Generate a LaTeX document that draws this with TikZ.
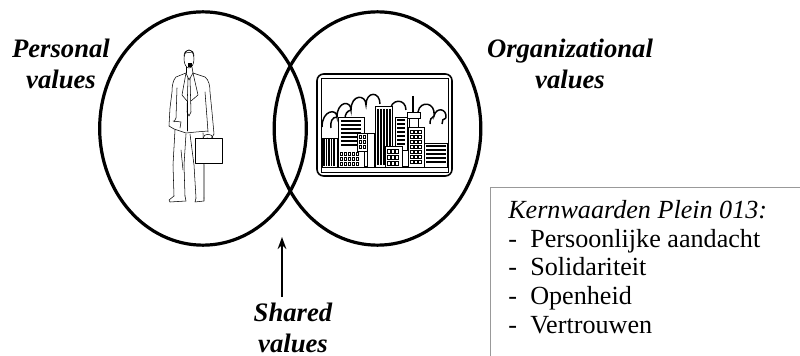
\documentclass[tikz,border=0pt]{standalone}
\usepackage{fontspec}
\setmainfont{Liberation Serif}
\usetikzlibrary{arrows.meta,shapes.geometric}
\begin{document}
\begin{tikzpicture}[x=0.75pt,y=-0.75pt,
  ring/.style={ellipse, draw, line width=2.4pt, inner sep=0pt, minimum width=155pt, minimum height=175pt},
  lbl/.style={font=\fontsize{20}{23.25}\selectfont\bfseries\itshape, align=center, inner sep=0pt, anchor=base},
  listtxt/.style={font=\fontsize{19.6}{21.4}\selectfont, align=left, inner sep=0pt, anchor=base west},
  art/.style={line width=0.4pt, line join=round, line cap=round},
  bld/.style={line width=0.6pt, fill=white},
  stripe/.style={line width=0.9pt},
  win/.style={line width=0.4pt},
  cloud/.style={line width=1.1pt},
  pointer/.style={line width=1.5pt, -{Stealth[length=9pt,width=6.5pt]}},
  boxedge/.style={draw=gray!80, line width=0.7pt},
]
\useasboundingbox (0,0) rectangle (800,356);

% ---- the two value circles
\node[ring] (pc) at (203,128.5) {};
\node[ring] (oc) at (377.5,128.5) {};

% ---- man with briefcase
\begin{scope}[art]
  \draw (189,59) ellipse [x radius=5, y radius=9];
  \draw (184,56) .. controls (184,48) and (194,48) .. (194,56);
  \draw (185,53) -- (193,52);
  \fill (187.5,63.5) rectangle (191.5,67);
  \draw (186,67) -- (186,73);
  \draw (192,67) -- (193,73);
  \draw (186,73) -- (189,80) -- (193,73);
  \draw (188,78) -- (187,112) -- (189,116) -- (191,112) -- (190,78);
  % jacket
  \draw (186,73) -- (176,77) .. controls (173,80) and (172,86) .. (172,92) -- (170,108) -- (169,126) -- (174,129);
  \draw (193,73) -- (205,77) .. controls (209,80) and (210,86) .. (210,92) -- (212,112) -- (214,134) -- (211,139) -- (207,138);
  \draw (186,73) -- (182,95) -- (187,101);
  \draw (193,73) -- (198,95) -- (191,101);
  \draw (177,88) -- (176,118) -- (174,122);
  \draw (173,121) -- (181,122) -- (180,128);
  \draw (205,92) -- (207,118) -- (208,132);
  \draw (174,129) -- (186,133) -- (196,132) -- (208,131);
  \draw (187,101) -- (187,131);
  % trousers
  \draw (175,130) -- (173,165) -- (174,196);
  \draw (186,134) -- (184,165) -- (185,196);
  \draw (190,134) -- (194,165) -- (196,198);
  \draw (203,133) -- (204,165) -- (204,198);
  \draw (181,150) -- (183,170);
  % shoes
  \draw (174,196) -- (169,200) -- (170,202) -- (186,201) -- (185,196);
  \draw (196,198) -- (195,202) -- (204,201) -- (204,198);
  % briefcase
  \draw[fill=white] (195,138) rectangle (222,163);
  \draw (203,138) .. controls (204,133) and (212,133) .. (213,138);
\end{scope}

% ---- city picture
\begin{scope}
  \draw[line width=1.2pt, rounded corners=5pt] (317,74) rectangle (452,176);
  \draw[line width=0.7pt] (321,78) rectangle (448,172);
  % clouds
  \draw[cloud] (322,127) .. controls (322,110) and (337,108) .. (337,117)
     .. controls (337,101) and (351,100) .. (351,110)
     .. controls (351,94) and (366,94) .. (366,105)
     .. controls (366,91) and (380,91) .. (380,104);
  \draw[cloud] (337,117) .. controls (332,117) and (330,122) .. (331,128);
  \draw[cloud] (351,110) .. controls (347,111) and (345,114) .. (345,119);
  \draw[cloud] (390,112) .. controls (390,98) and (406,98) .. (406,110);
  \draw[cloud] (418,112) .. controls (420,100) and (436,102) .. (434,116)
     .. controls (436,107) and (447,108) .. (446,118);
  \draw[cloud] (434,116) .. controls (431,117) and (430,120) .. (430,124);
  \draw[cloud] (446,118) .. controls (443,118) and (442,121) .. (442,124);
  % base strip
  \draw[line width=1pt] (321,167) -- (448,167);
  % buildings
  \draw[bld] (322,138) rectangle (337,167);
  \foreach \x in {324,326.5,...,335} \draw[stripe] (\x,139) -- (\x,166);
  \draw[bld] (338,117) rectangle (364,167);
  \foreach \y in {121,125,...,145} \draw[stripe] (341,\y) -- (361,\y);
  \foreach \x in {340,344,...,356} \foreach \y in {152,157,162} \draw[win] (\x,\y) rectangle +(2.5,3.5);
  \draw[bld] (357,133) rectangle (367,151);
  \foreach \x in {359,363} \foreach \y in {135,140,145} \draw[win] (\x,\y) rectangle +(2.5,3.5);
  \draw[bld] (367,133) rectangle (374,167);
  \draw[bld] (375,106) rectangle (392,167);
  \foreach \x in {378,381,...,390} \draw[stripe] (\x,109) -- (\x,165);
  \draw[bld] (395,117) rectangle (407,150);
  \foreach \y in {120,124,...,146} \draw[stripe] (397,\y) -- (405,\y);
  \draw[bld] (385,146) rectangle (402,167);
  \foreach \x in {387,391,395} \foreach \y in {149,155,161} \draw[win] (\x,\y) rectangle +(3,4);
  \draw[stripe] (413,96) -- (413,113);
  \draw[bld] (407,112) rectangle (420,118);
  \draw[bld] (409,118) rectangle (418,127);
  \draw[bld] (408,127) rectangle (424,167);
  \foreach \x in {410,414,418} \foreach \y in {130,135,...,160} \draw[win] (\x,\y) rectangle +(3,3.5);
  \draw[bld] (424,143) rectangle (447,167);
  \foreach \y in {146,150,...,164} \draw[stripe] (426,\y) -- (446,\y);
\end{scope}

% ---- labels (base anchor = baseline of the last line)
\node[lbl] (pv) at (61,89) {Personal\\values};
\node[lbl] (ov) at (570,89) {Organizational\\values};
\node[lbl] (sv) at (293,352) {Shared\\values};

% ---- arrow to the overlap
\coordinate (atail) at (282,297);
\coordinate (ahead) at (282,237);
\draw[pointer] (atail) -- (ahead);

% ---- core values box
\draw[boxedge] (490,356) -- (490,187) -- (800,187);
\node[listtxt] (kw) at (508,333) {\textit{Kernwaarden Plein 013:}\\
  \makebox[16.5pt][l]{-}Persoonlijke aandacht\\
  \makebox[16.5pt][l]{-}Solidariteit\\
  \makebox[16.5pt][l]{-}Openheid\\
  \makebox[16.5pt][l]{-}Vertrouwen};
\end{tikzpicture}
\end{document}
